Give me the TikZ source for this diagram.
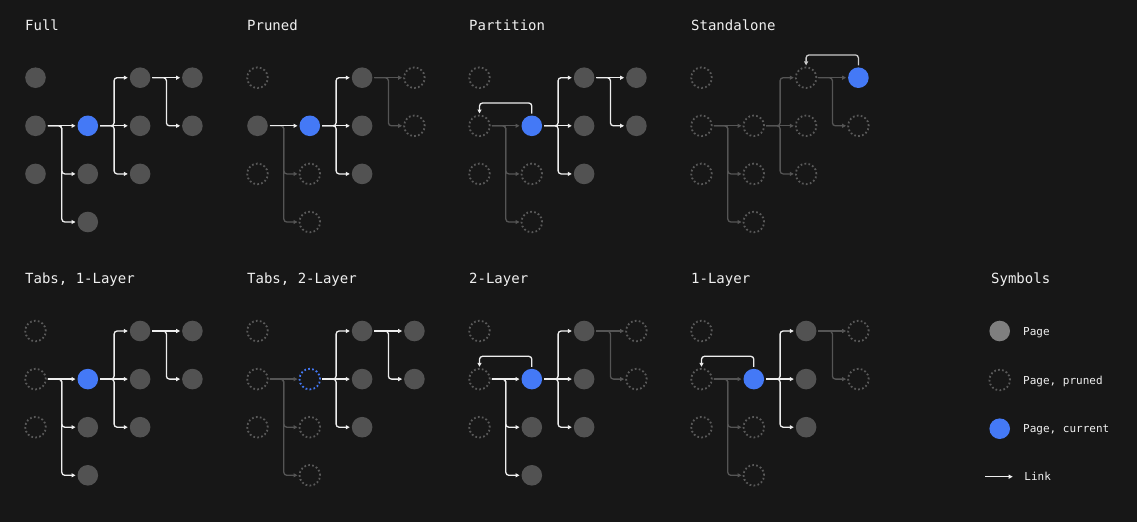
\documentclass[tikz,border=0pt]{standalone}
\usepackage{fontspec}
\setmonofont{DejaVu Sans Mono}
\usetikzlibrary{arrows.meta,positioning}

\definecolor{bgcol}{HTML}{171717}
\definecolor{pagegray}{HTML}{525252}
\definecolor{legendgray}{HTML}{7F7F7F}
\definecolor{prunegray}{HTML}{5A5A5A}
\definecolor{curblue}{HTML}{4479F6}
\definecolor{linkwhite}{HTML}{EEEEEE}
\definecolor{linkgray}{HTML}{555555}
\definecolor{textwhite}{HTML}{F0F0F0}

\tikzset{
  pagenode/.style={circle, minimum size=20.6pt, inner sep=0pt, outer sep=2pt, fill=pagegray},
  curnode/.style={pagenode, fill=curblue},
  prunednode/.style={circle, minimum size=20.6pt, inner sep=0pt, outer sep=2pt,
    draw=prunegray, line width=1.8pt, dash pattern=on 1.7pt off 2.3pt},
  curpruned/.style={prunednode, draw=curblue},
  linkon/.style={draw=linkwhite, line width=1.3pt, rounded corners=3pt,
    -{Triangle[length=4pt,width=4pt]}},
  linkoff/.style={linkon, draw=linkgray},
  paneltitle/.style={anchor=base west, inner sep=0pt, text=textwhite,
    font=\ttfamily\fontsize{14}{16}\selectfont},
  legtext/.style={anchor=west, inner sep=0pt, text height=9pt, text depth=1pt,
    text=textwhite, font=\ttfamily\fontsize{11}{13}\selectfont}
}

% one panel: name, origin, title, node styles, links c1->c2, c1->lower c2, c2->c3, c3->c4
\newcommand{\tree}[8]{%
  \begin{scope}[shift={(#2)}]
  \node[paneltitle] (#1-title) at (-10.5,-47.7) {#3};
  \foreach \c/\r/\s in {#4}
    \node[\s] (#1-\c\r) at ({(\c-1)*52.3},{(\r-1)*48.1}) {};
  % links
  \draw[#6] (#1-12.east) -- ++(14,0) |- (#1-23.west);
  \draw[#6] (#1-12.east) -- ++(14,0) |- (#1-24.west);
  \draw[#5] (#1-12) -- (#1-22);
  \draw[#7] (#1-22.east) -- ++(14,0) |- (#1-31.west);
  \draw[#7] (#1-22.east) -- ++(14,0) |- (#1-33.west);
  \draw[#7] (#1-22) -- (#1-32);
  \draw[#8] (#1-31.east) -- ++(14,0) |- (#1-42.west);
  \draw[#8] (#1-31) -- (#1-41);
  \end{scope}}

\begin{document}
\begin{tikzpicture}[x=1pt, y=-1pt]

\fill[bgcol] (0,0) rectangle (1137,522);

% top row
\tree{full}{35.5,77.7}{Full}
  {1/1/pagenode,1/2/pagenode,1/3/pagenode,2/2/curnode,2/3/pagenode,2/4/pagenode,
   3/1/pagenode,3/2/pagenode,3/3/pagenode,4/1/pagenode,4/2/pagenode}
  {linkon}{linkon}{linkon}{linkon}
\tree{pruned}{257.5,77.7}{Pruned}
  {1/1/prunednode,1/2/pagenode,1/3/prunednode,2/2/curnode,2/3/prunednode,2/4/prunednode,
   3/1/pagenode,3/2/pagenode,3/3/pagenode,4/1/prunednode,4/2/prunednode}
  {linkon}{linkoff}{linkon}{linkoff}
\tree{part}{479.5,77.7}{Partition}
  {1/1/prunednode,1/2/prunednode,1/3/prunednode,2/2/curnode,2/3/prunednode,2/4/prunednode,
   3/1/pagenode,3/2/pagenode,3/3/pagenode,4/1/pagenode,4/2/pagenode}
  {linkoff}{linkoff}{linkon}{linkon}
\draw[linkon] (part-22.north) -- ++(0,-10.5) -| (part-12.north);
\tree{alone}{701.5,77.7}{Standalone}
  {1/1/prunednode,1/2/prunednode,1/3/prunednode,2/2/prunednode,2/3/prunednode,2/4/prunednode,
   3/1/prunednode,3/2/prunednode,3/3/prunednode,4/1/curnode,4/2/prunednode}
  {linkoff}{linkoff}{linkoff}{linkoff}
\draw[linkon, draw=linkwhite!85!black] (alone-41.north) -- ++(0,-10.5) -| (alone-31.north);

% bottom row
\tree{tabsa}{35.5,331}{Tabs, 1-Layer}
  {1/1/prunednode,1/2/prunednode,1/3/prunednode,2/2/curnode,2/3/pagenode,2/4/pagenode,
   3/1/pagenode,3/2/pagenode,3/3/pagenode,4/1/pagenode,4/2/pagenode}
  {linkon}{linkon}{linkon}{linkon}
\tree{tabsb}{257.5,331}{Tabs, 2-Layer}
  {1/1/prunednode,1/2/prunednode,1/3/prunednode,2/2/curpruned,2/3/prunednode,2/4/prunednode,
   3/1/pagenode,3/2/pagenode,3/3/pagenode,4/1/pagenode,4/2/pagenode}
  {linkoff}{linkoff}{linkon}{linkon}
\tree{twol}{479.5,331}{2-Layer}
  {1/1/prunednode,1/2/prunednode,1/3/prunednode,2/2/curnode,2/3/pagenode,2/4/pagenode,
   3/1/pagenode,3/2/pagenode,3/3/pagenode,4/1/prunednode,4/2/prunednode}
  {linkon}{linkon}{linkon}{linkoff}
\draw[linkon] (twol-22.north) -- ++(0,-10.5) -| (twol-12.north);
\tree{onel}{701.5,331}{1-Layer}
  {1/1/prunednode,1/2/prunednode,1/3/prunednode,2/2/curnode,2/3/prunednode,2/4/prunednode,
   3/1/pagenode,3/2/pagenode,3/3/pagenode,4/1/prunednode,4/2/prunednode}
  {linkoff}{linkoff}{linkon}{linkoff}
\draw[linkon] (onel-22.north) -- ++(0,-10.5) -| (onel-12.north);

% symbols
\node[paneltitle] (sym-title) at (991,283.3) {Symbols};
\node[pagenode, fill=legendgray] (sym-page) at (999.7,331) {};
\node[legtext, right=11pt of sym-page] (sym-pagetxt) {Page};
\node[prunednode] (sym-pruned) at (999.7,380) {};
\node[legtext, right=11pt of sym-pruned] (sym-prunedtxt) {Page, pruned};
\node[curnode] (sym-cur) at (999.7,428.7) {};
\node[legtext, right=11pt of sym-cur] (sym-curtxt) {Page, current};
\coordinate (sym-a) at (985,476.7);
\coordinate (sym-b) at (1012.7,476.7);
\draw[linkon] (sym-a) -- (sym-b);
\node[legtext, right=11.5pt of sym-b] (sym-linktxt) {Link};

\end{tikzpicture}
\end{document}
